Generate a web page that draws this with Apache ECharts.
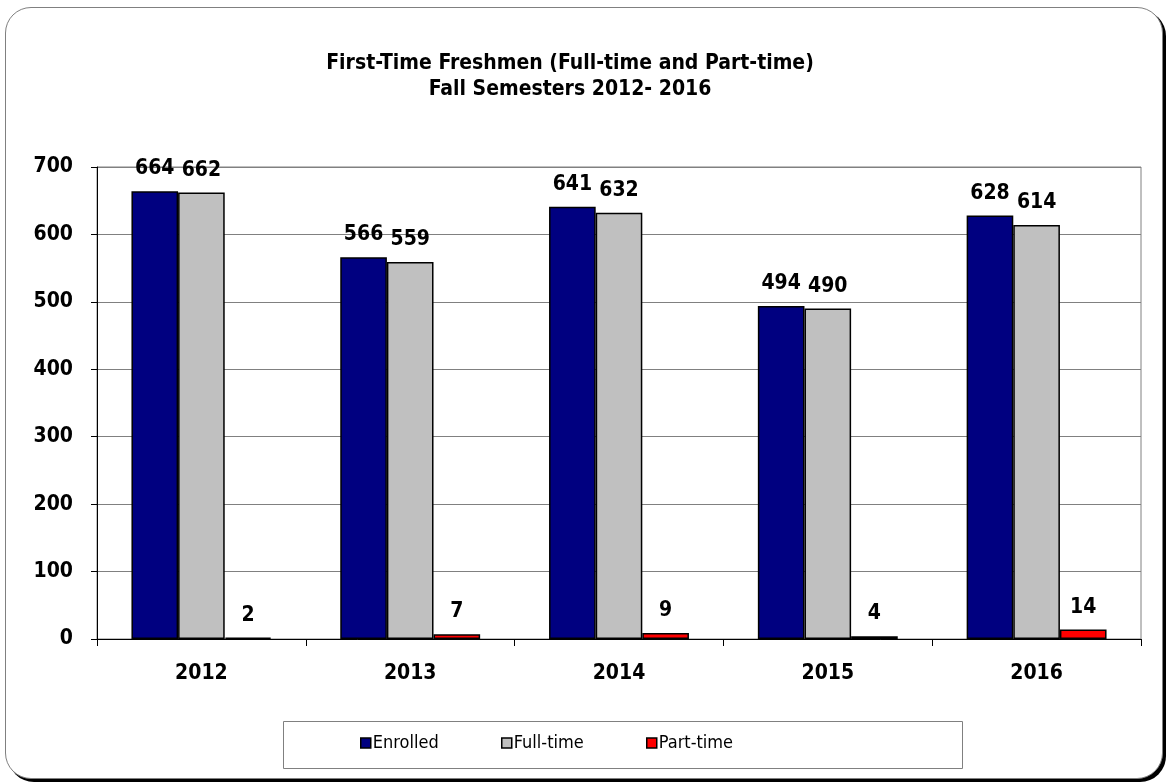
<!DOCTYPE html>
<html>
<head>
<meta charset="utf-8">
<script src="https://cdn.jsdelivr.net/npm/echarts@6/dist/echarts.min.js"></script>
<style>
  html, body { margin: 0; padding: 0; background: #fff; }
  #frame {
    position: absolute; left: 5px; top: 7px; width: 1156px; height: 770px;
    border: 1px solid #808080; border-radius: 26px;
    box-shadow: 3px 3px 0 #000; background: #fff;
  }
  #chart { position: absolute; left: 0; top: 0; width: 1168px; height: 784px; }
</style>
</head>
<body>
<div id="frame"></div>
<div id="chart"></div>
<script>
var years = ['2012', '2013', '2014', '2015', '2016'];
var enrolled = [664, 566, 641, 494, 628];
var fullTime = [662, 559, 632, 490, 614];
var partTime = [2, 7, 9, 4, 14];
var seriesNames = ['Enrolled', 'Full-time', 'Part-time'];
var legendLeft = [360, 501, 646];

var font = "'Liberation Sans Narrow', 'Arial Narrow', 'DejaVu Sans Condensed', sans-serif";

var myChart = echarts.init(document.getElementById('chart'));

function barSeries(name, data, color) {
    return {
        name: name,
        type: 'bar',
        data: data,
        barGap: '0%',
        barCategoryGap: '33%',
        itemStyle: { color: color, borderColor: '#000', borderWidth: 1.5 },
        label: {
            show: true,
            position: 'top',
            distance: 12,
            color: '#000',
            fontFamily: font,
            fontSize: 21,
            fontWeight: 'bold'
        }
    };
}

// one legend per item so spacing matches the original
var legends = seriesNames.map(function (n, i) {
    return {
        left: legendLeft[i],
        top: 734,
        itemWidth: 10,
        itemHeight: 10,
        itemGap: 0,
        icon: 'rect',
        padding: 0,
        itemStyle: { borderColor: '#000', borderWidth: 1.5 },
        textStyle: { fontFamily: font, fontSize: 18, color: '#000', padding: [0, 0, 0, -3] },
        data: [n]
    };
});

var option = {
    backgroundColor: 'transparent',
    animation: false,
    title: {
        text: 'First-Time Freshmen (Full-time and Part-time)\nFall Semesters 2012- 2016',
        left: 565,
        top: 46,
        textAlign: 'center',
        textStyle: { fontFamily: font, fontSize: 21, fontWeight: 'bold', color: '#000', lineHeight: 26 }
    },
    graphic: [{
        type: 'rect',
        shape: { x: 283.5, y: 721.5, width: 679, height: 47 },
        style: { fill: '#fff', stroke: '#808080', lineWidth: 1 },
        z: -1
    }],
    legend: legends,
    grid: {
        left: 97, right: 27, top: 167, bottom: 145,
        show: true, borderColor: '#808080', borderWidth: 1
    },
    xAxis: {
        type: 'category',
        data: years,
        axisLine: { lineStyle: { color: '#000', width: 1 } },
        axisTick: { show: true, length: 7, lineStyle: { color: '#000' } },
        axisLabel: { fontFamily: font, fontSize: 21, fontWeight: 'bold', color: '#000', margin: 24 }
    },
    yAxis: {
        type: 'value',
        min: 0, max: 700, interval: 100,
        axisLine: { show: true, lineStyle: { color: '#000', width: 1 } },
        axisTick: { show: true, length: 6, lineStyle: { color: '#000' } },
        splitLine: { lineStyle: { color: '#808080', width: 1 } },
        axisLabel: { fontFamily: font, fontSize: 21, fontWeight: 'bold', color: '#000', margin: 24 }
    },
    series: [
        barSeries('Enrolled', enrolled, '#000080'),
        barSeries('Full-time', fullTime, '#C0C0C0'),
        barSeries('Part-time', partTime, '#FF0000')
    ]
};

myChart.setOption(option);
</script>
</body>
</html>
